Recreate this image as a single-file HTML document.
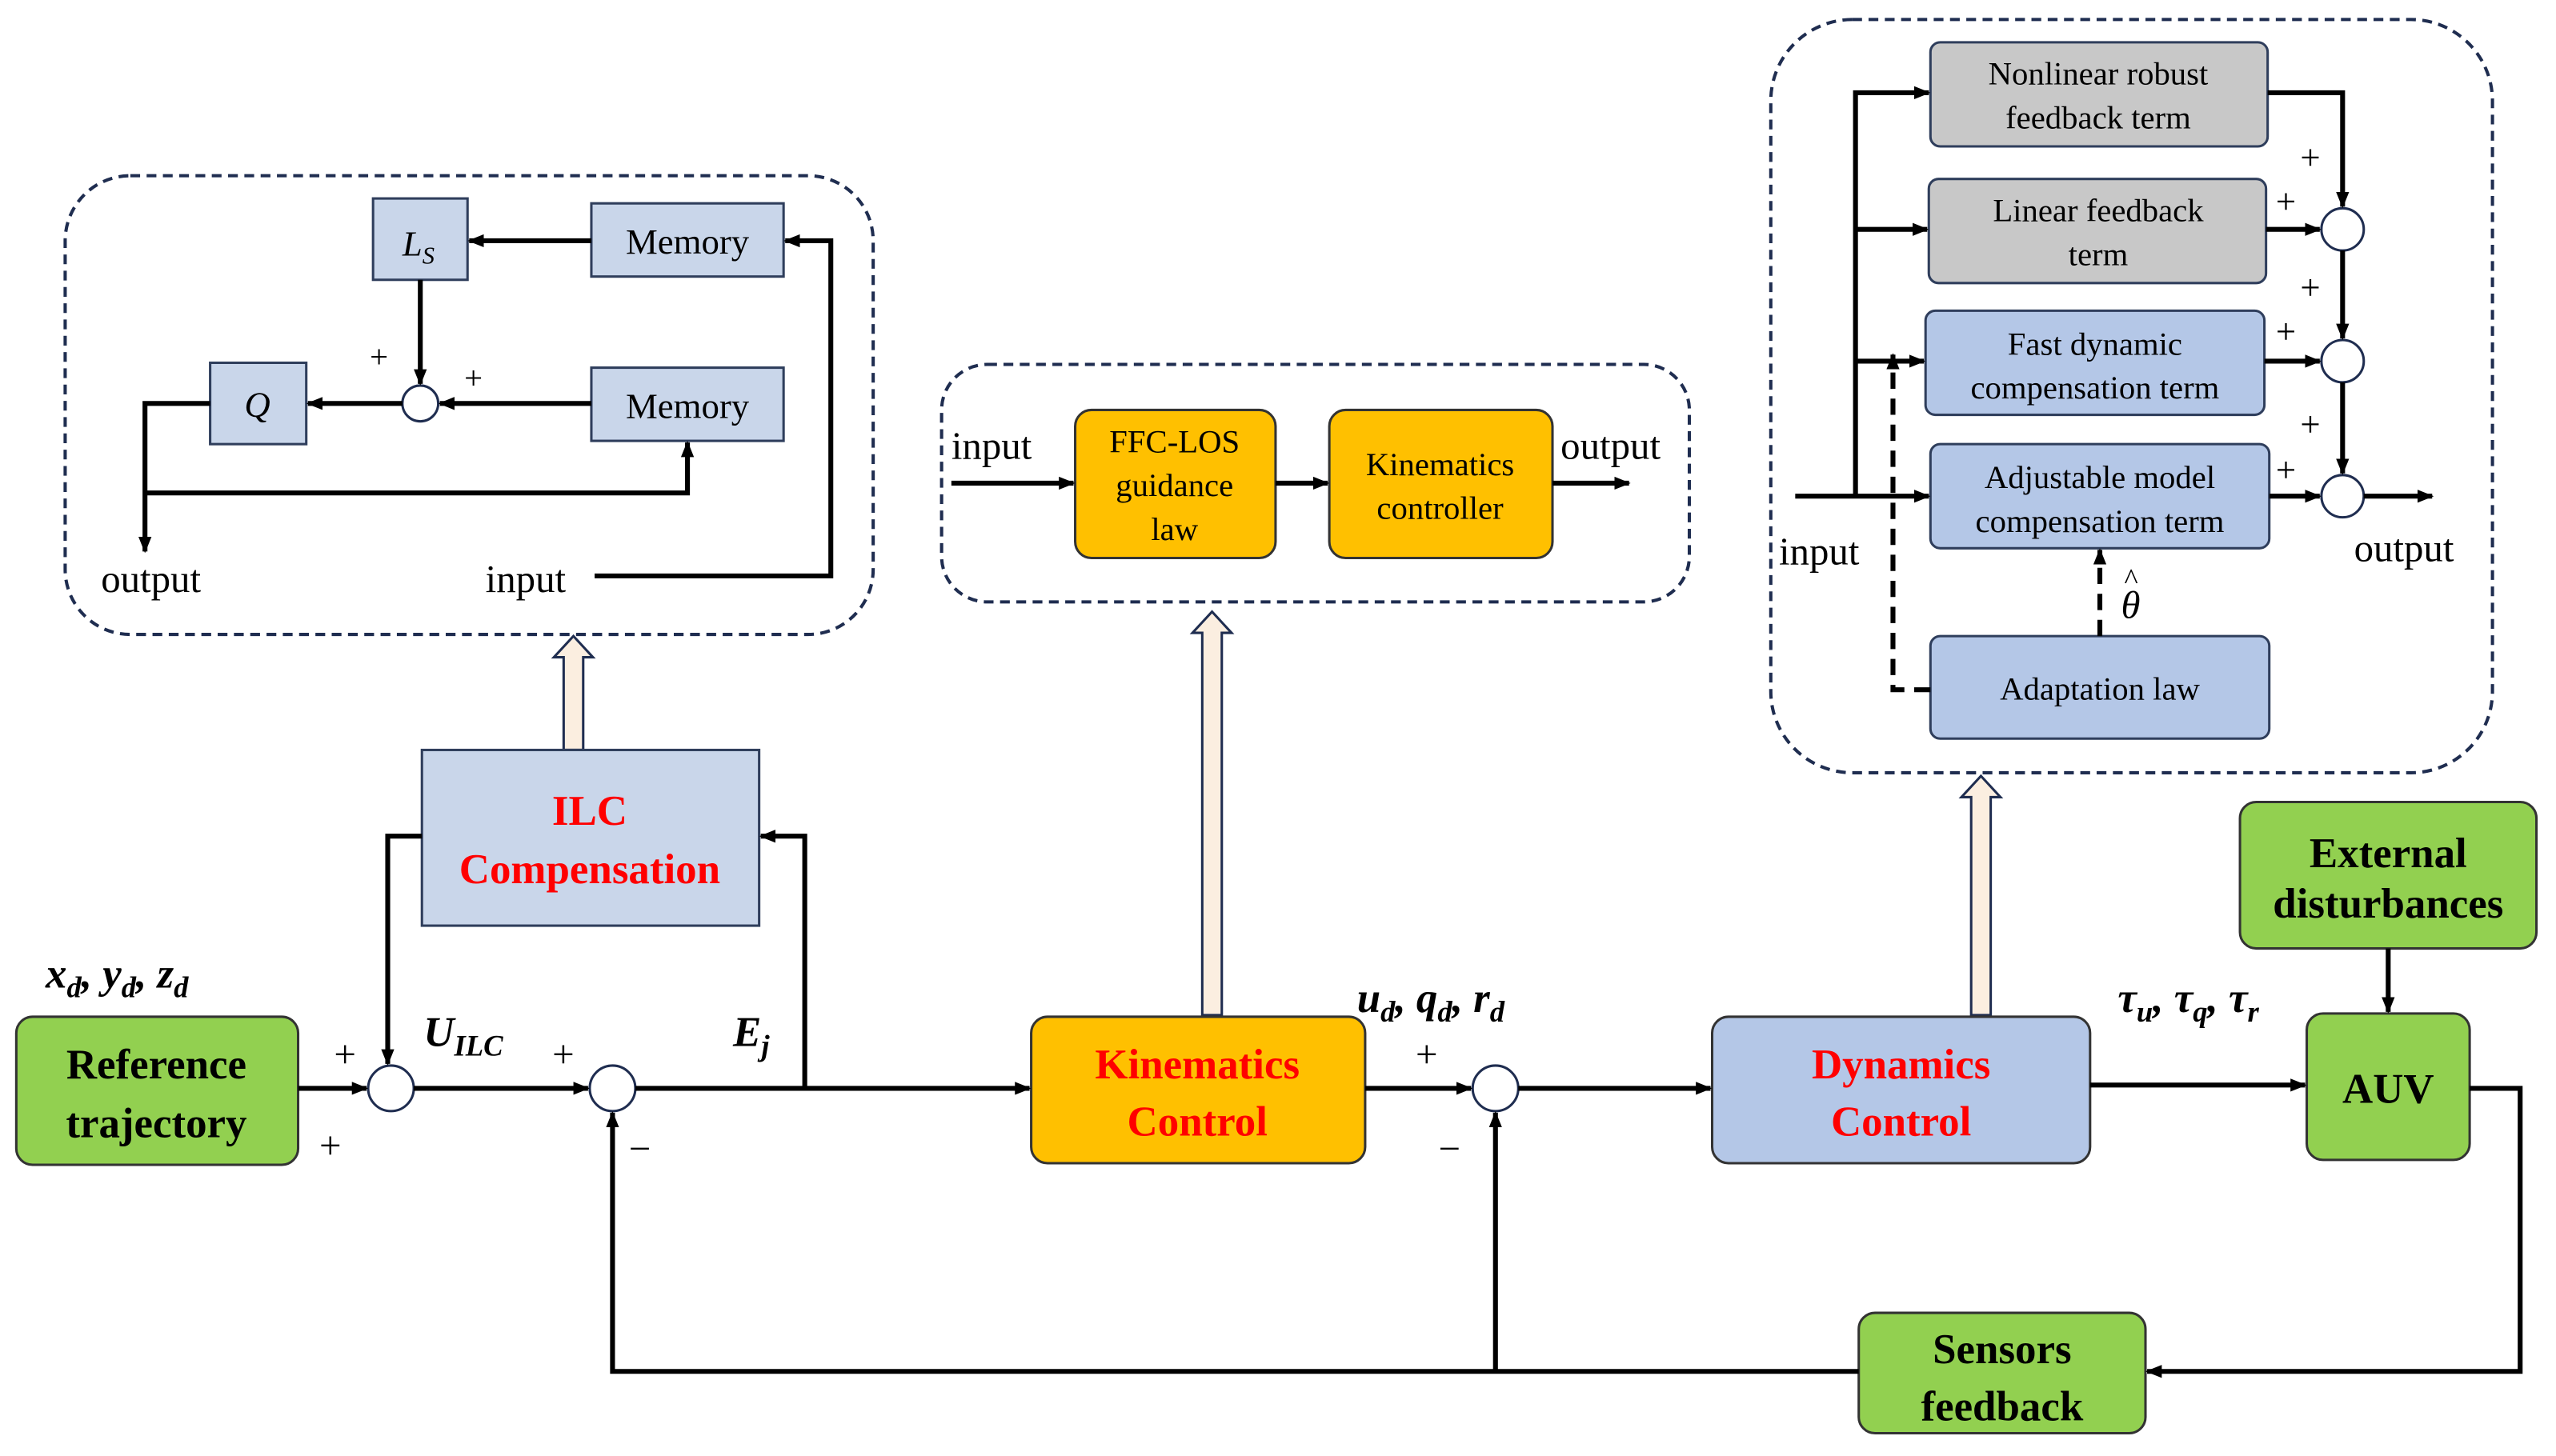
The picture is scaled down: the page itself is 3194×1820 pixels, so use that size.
<!DOCTYPE html>
<html><head><meta charset="utf-8"><style>
html,body{margin:0;padding:0;background:#fff;}
svg{display:block;}
text{font-family:"Liberation Serif",serif;}
</style></head><body>
<svg width="3194" height="1820" viewBox="0 0 1569 895" preserveAspectRatio="none" xmlns="http://www.w3.org/2000/svg">
<defs>
<marker id="a" markerWidth="10" markerHeight="10" refX="9" refY="5" orient="auto" markerUnits="userSpaceOnUse"><path d="M0,1 L10,5 L0,9 z" fill="#000"/></marker>
</defs>
<g fill="none" stroke="#1f2d50" stroke-width="2" stroke-dasharray="6,4">
<rect x="40" y="108" width="496" height="282" rx="40"/>
<rect x="578" y="224" width="459" height="146" rx="28"/>
<rect x="1087" y="12" width="443" height="463" rx="50"/>
</g>
<g stroke="#2f3e5c" stroke-width="1.5" fill="#c9d6ea">
<rect x="229" y="122" width="58" height="50"/>
<rect x="363" y="125" width="118" height="45"/>
<rect x="129" y="223" width="59" height="50"/>
<rect x="363" y="226" width="118" height="45"/>
</g>
<circle cx="258" cy="248" r="11" fill="#fff" stroke="#1f2d50" stroke-width="1.5"/>
<g stroke="#000" stroke-width="3" fill="none" marker-end="url(#a)">
<path d="M363,148 H288"/>
<path d="M258,172 V236"/>
<path d="M363,248 H270"/>
<path d="M247,248 H189"/>
<path d="M129,248 H89 V339"/>
<path d="M89,303 H422 V272"/>
<path d="M365,354 H510 V148 H482"/>
</g>
<text x="247" y="157" font-size="22" font-style="italic">L<tspan font-size="15" dy="5">S</tspan></text>
<text x="150" y="256" font-size="22" font-style="italic">Q</text>
<text x="422" y="156" font-size="22" text-anchor="middle">Memory</text>
<text x="422" y="257" font-size="22" text-anchor="middle">Memory</text>
<text x="227" y="226" font-size="20">+</text>
<text x="285" y="239" font-size="20">+</text>
<text x="62" y="364" font-size="24">output</text>
<text x="298" y="364" font-size="24">input</text>
<g stroke="#333" stroke-width="1.5" fill="#ffc000">
<rect x="660" y="252" width="123" height="91" rx="10"/>
<rect x="816" y="252" width="137" height="91" rx="10"/>
</g>
<g font-size="20" text-anchor="middle">
<text x="721" y="278">FFC-LOS</text><text x="721" y="305">guidance</text><text x="721" y="332">law</text>
<text x="884" y="292">Kinematics</text><text x="884" y="319">controller</text>
</g>
<g stroke="#000" stroke-width="3" fill="none" marker-end="url(#a)">
<path d="M584,297 H659"/><path d="M783,297 H815"/><path d="M953,297 H1000"/>
</g>
<text x="584" y="282" font-size="24">input</text>
<text x="958" y="282" font-size="24">output</text>
<g stroke="#2f3e5c" stroke-width="1.5">
<rect x="1185" y="26" width="207" height="64" rx="6" fill="#c8c8c8"/>
<rect x="1184" y="110" width="207" height="64" rx="6" fill="#c8c8c8"/>
<rect x="1182" y="191" width="208" height="64" rx="6" fill="#b4c7e7"/>
<rect x="1185" y="273" width="208" height="64" rx="6" fill="#b4c7e7"/>
<rect x="1185" y="391" width="208" height="63" rx="6" fill="#b4c7e7"/>
</g>
<g font-size="20" text-anchor="middle">
<text x="1288" y="52">Nonlinear robust</text><text x="1288" y="79">feedback term</text>
<text x="1288" y="136">Linear feedback</text><text x="1288" y="163">term</text>
<text x="1286" y="218">Fast dynamic</text><text x="1286" y="245">compensation term</text>
<text x="1289" y="300">Adjustable model</text><text x="1289" y="327">compensation term</text>
<text x="1289" y="430">Adaptation law</text>
</g>
<g fill="#fff" stroke="#1f2d50" stroke-width="1.5">
<circle cx="1438" cy="141" r="13"/><circle cx="1438" cy="222" r="13"/><circle cx="1438" cy="305" r="13"/>
</g>
<g stroke="#000" stroke-width="3" fill="none" marker-end="url(#a)">
<path d="M1102,305 H1184"/>
<path d="M1139,305 V57 H1184"/>
<path d="M1139,141 H1183"/>
<path d="M1139,222 H1181"/>
<path d="M1392,57 H1438 V127"/>
<path d="M1391,141 H1424"/>
<path d="M1438,154 V208"/>
<path d="M1390,222 H1424"/>
<path d="M1438,235 V291"/>
<path d="M1393,305 H1424"/>
<path d="M1451,305 H1493"/>
</g>
<g stroke="#000" stroke-width="3" fill="none" stroke-dasharray="10,6" marker-end="url(#a)">
<path d="M1289,391 V338"/>
<path d="M1185,424 H1162 V218"/>
</g>
<g font-size="22">
<text x="1412" y="104">+</text><text x="1397" y="131">+</text>
<text x="1412" y="184">+</text><text x="1397" y="211">+</text>
<text x="1412" y="268">+</text><text x="1397" y="296">+</text>
</g>
<text x="1302" y="380" font-size="24" font-style="italic">θ</text>
<text x="1304" y="362" font-size="18">^</text>
<text x="1092" y="347" font-size="24">input</text>
<text x="1445" y="345" font-size="24">output</text>
<g fill="#fbeee0" stroke="#1f2d50" stroke-width="1.5">
<path d="M346,461 V404 H340 L352,391 L364,404 H358 V461 Z"/>
<path d="M738,624 V389 H732 L744,376 L756,389 H750 V624 Z"/>
<path d="M1210,624 V490 H1204 L1216,477 L1228,490 H1222 V624 Z"/>
</g>
<rect x="259" y="461" width="207" height="108" fill="#c9d6ea" stroke="#2f3e5c" stroke-width="1.5"/>
<g font-size="26" font-weight="bold" fill="#ff0000" text-anchor="middle">
<text x="362" y="507">ILC</text><text x="362" y="543">Compensation</text>
</g>
<rect x="10" y="625" width="173" height="91" rx="10" fill="#92d050" stroke="#333" stroke-width="1.5"/>
<rect x="633" y="625" width="205" height="90" rx="10" fill="#ffc000" stroke="#333" stroke-width="1.5"/>
<rect x="1051" y="625" width="232" height="90" rx="10" fill="#b4c7e7" stroke="#333" stroke-width="1.5"/>
<rect x="1416" y="623" width="100" height="90" rx="10" fill="#92d050" stroke="#333" stroke-width="1.5"/>
<rect x="1375" y="493" width="182" height="90" rx="10" fill="#92d050" stroke="#333" stroke-width="1.5"/>
<rect x="1141" y="807" width="176" height="74" rx="10" fill="#92d050" stroke="#333" stroke-width="1.5"/>
<g font-size="26" font-weight="bold" text-anchor="middle">
<text x="96" y="663">Reference</text><text x="96" y="699">trajectory</text>
<text x="735" y="663" fill="#ff0000">Kinematics</text><text x="735" y="698" fill="#ff0000">Control</text>
<text x="1167" y="663" fill="#ff0000">Dynamics</text><text x="1167" y="698" fill="#ff0000">Control</text>
<text x="1466" y="678">AUV</text>
<text x="1466" y="533">External</text><text x="1466" y="564">disturbances</text>
<text x="1229" y="838">Sensors</text><text x="1229" y="873">feedback</text>
</g>
<g fill="#fff" stroke="#1f2d50" stroke-width="1.5">
<circle cx="240" cy="669" r="14"/><circle cx="376" cy="669" r="14"/><circle cx="918" cy="669" r="14"/>
</g>
<g stroke="#000" stroke-width="3" fill="none" marker-end="url(#a)">
<path d="M183,669 H225"/>
<path d="M254,669 H361"/>
<path d="M390,669 H632"/>
<path d="M838,669 H903"/>
<path d="M932,669 H1050"/>
<path d="M1283,667 H1415"/>
<path d="M1516,669 H1547 V843 H1318"/>
<path d="M1141,843 H376 V684"/>
<path d="M918,843 V684"/>
<path d="M1466,583 V622"/>
<path d="M494,669 V514 H467"/>
<path d="M259,514 H238 V654"/>
</g>
<g font-size="26" font-weight="bold" font-style="italic">
<text x="28" y="607">x<tspan font-size="18" dy="6">d</tspan><tspan dy="-6">, y</tspan><tspan font-size="18" dy="6">d</tspan><tspan dy="-6">, z</tspan><tspan font-size="18" dy="6">d</tspan></text>
<text x="260" y="643">U<tspan font-size="18" dy="6">ILC</tspan></text>
<text x="450" y="643">E<tspan font-size="18" dy="6">j</tspan></text>
<text x="833" y="622">u<tspan font-size="18" dy="6">d</tspan><tspan dy="-6">, q</tspan><tspan font-size="18" dy="6">d</tspan><tspan dy="-6">, r</tspan><tspan font-size="18" dy="6">d</tspan></text>
<text x="1300" y="622">τ<tspan font-size="18" dy="6">u</tspan><tspan dy="-6">, τ</tspan><tspan font-size="18" dy="6">q</tspan><tspan dy="-6">, τ</tspan><tspan font-size="18" dy="6">r</tspan></text>
</g>
<g font-size="24">
<text x="205" y="656">+</text><text x="196" y="712">+</text>
<text x="339" y="656">+</text><text x="386" y="714">−</text>
<text x="869" y="656">+</text><text x="883" y="714">−</text>
</g>
</svg>
</body></html>
